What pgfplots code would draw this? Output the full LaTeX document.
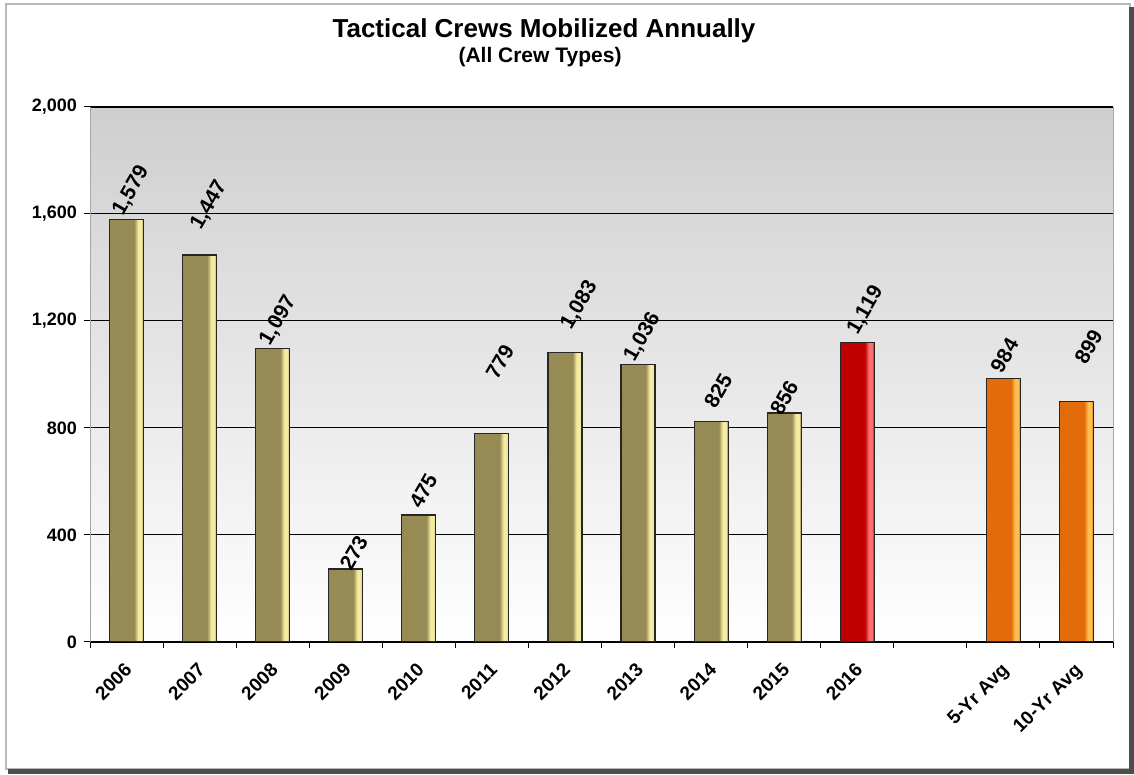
\documentclass[border=0pt]{standalone}
\usepackage{fontspec}
\setmainfont{Liberation Sans}
\usepackage{pgfplots}
\pgfplotsset{compat=1.18}

\definecolor{olv}{RGB}{150,138,85}
\definecolor{olvlt}{RGB}{245,235,160}
\definecolor{olvdk}{RGB}{115,105,60}
\definecolor{redb}{RGB}{192,0,0}
\definecolor{redlt}{RGB}{255,110,110}
\definecolor{redk}{RGB}{140,0,0}
\definecolor{orb}{RGB}{227,108,10}
\definecolor{orlt}{RGB}{255,190,80}
\definecolor{ordk}{RGB}{170,75,5}

\pgfdeclarehorizontalshading{olivebar}{100bp}{color(0bp)=(olv); color(25bp)=(olv); color(61bp)=(olv); color(67bp)=(olvlt); color(72bp)=(olvlt); color(75bp)=(olvdk); color(100bp)=(olvdk)}
\pgfdeclarehorizontalshading{redbar}{100bp}{color(0bp)=(redb); color(25bp)=(redb); color(61bp)=(redb); color(67bp)=(redlt); color(72bp)=(redlt); color(75bp)=(redk); color(100bp)=(redk)}
\pgfdeclarehorizontalshading{orbar}{100bp}{color(0bp)=(orb); color(25bp)=(orb); color(61bp)=(orb); color(67bp)=(orlt); color(72bp)=(orlt); color(75bp)=(ordk); color(100bp)=(ordk)}

\pgfplotsset{
  barbase/.style 2 args={ybar, bar width=17pt, bar shift=0pt, draw=black!85, line width=0.6pt,
    nodes near coords={\pgfmathprintnumber[1000 sep={,}, assume math mode=true]{\pgfplotspointmeta}},
    every node near coord/.style={xshift=#1, yshift=#2, rotate=60, anchor=west, inner sep=1pt, font=\bfseries\fontsize{10.5}{12}\selectfont, black}},
  ob/.style 2 args={barbase={#1}{#2}, shading=olivebar},
  rb/.style 2 args={barbase={#1}{#2}, shading=redbar},
  orb/.style 2 args={barbase={#1}{#2}, shading=orbar},
}

\begin{document}
\begin{tikzpicture}
\path[use as bounding box, fill=white] (0pt,0pt) rectangle (567pt,387.5pt);
\draw[gray!55, line width=1pt] (3pt,3pt) rectangle (565pt,385.5pt);
\draw[gray!60!black, line width=2.5pt] (4pt,1.6pt) -- (565.9pt,1.6pt) -- (565.9pt,384pt);
\node[font=\bfseries\fontsize{13}{15}\selectfont] at (272pt,372pt) {Tactical Crews Mobilized Annually};
\node[font=\bfseries\fontsize{10.5}{12}\selectfont] at (270pt,359pt) {(All Crew Types)};
\begin{axis}[
  at={(45pt,66.5pt)}, anchor=south west,
  scale only axis, width=511.5pt, height=267.5pt,
  xmin=-0.5, xmax=13.5, ymin=0, ymax=2000,
  /pgf/number format/assume math mode=true,
  /pgf/number format/1000 sep={,},
  ytick={0,400,...,2000},
  ymajorgrids, grid style={black, line width=0.5pt},
  axis background/.style={top color=black!19, bottom color=white},
  separate axis lines,
  every outer x axis line/.append style={black},
  every outer y axis line/.append style={gray!70},
  tick align=outside, major tick length=3pt,
  xtick pos=left, ytick pos=left,
  tick style={black, line width=0.5pt},
  xtick={-0.5,0.5,...,13.5}, xticklabels={},
  extra x ticks={0,1,2,3,4,5,6,7,8,9,10,12,13},
  extra x tick labels={2006,2007,2008,2009,2010,2011,2012,2013,2014,2015,2016,5-Yr Avg,10-Yr Avg},
  extra x tick style={major tick length=0pt, tick label style={xshift=-1.5pt, yshift=-5pt, rotate=45, anchor=north east, font=\bfseries\fontsize{9.5}{11}\selectfont}},
  yticklabel style={font=\bfseries\fontsize{9}{11}\selectfont},
]
\addplot[ob={-5pt}{2pt}] coordinates {(0,1579)};
\addplot[ob={-2.5pt}{12.5pt}] coordinates {(1,1447)};
\addplot[ob={-4.5pt}{1.5pt}] coordinates {(2,1097)};
\addplot[ob={-1pt}{-0.5pt}] coordinates {(3,273)};
\addplot[ob={-2.75pt}{3.5pt}] coordinates {(4,475)};
\addplot[ob={-1pt}{27pt}] coordinates {(5,779)};
\addplot[ob={0pt}{11pt}] coordinates {(6,1083)};
\addplot[ob={-5pt}{1.5pt}] coordinates {(7,1036)};
\addplot[ob={-1.5pt}{6.5pt}] coordinates {(8,825)};
\addplot[ob={-5pt}{-1pt}] coordinates {(9,856)};
\addplot[rb={-3pt}{4pt}] coordinates {(10,1119)};
\addplot[orb={-4.5pt}{3pt}] coordinates {(12,984)};
\addplot[orb={1pt}{18.5pt}] coordinates {(13,899)};
\end{axis}
\end{tikzpicture}
\end{document}
